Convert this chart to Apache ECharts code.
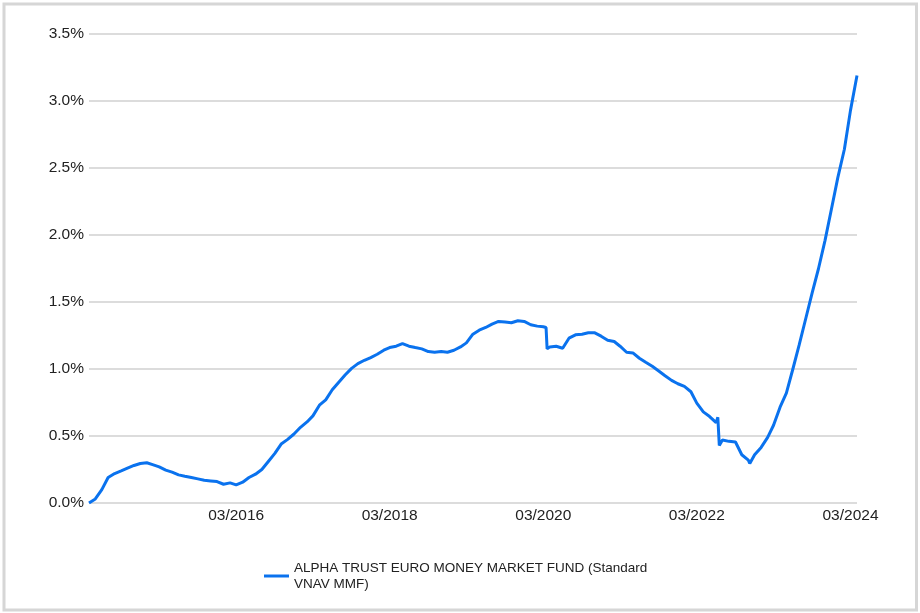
<!DOCTYPE html>
<html>
<head>
<meta charset="utf-8">
<script src="https://cdn.jsdelivr.net/npm/echarts@6/dist/echarts.min.js"></script>
<style>
html,body{margin:0;padding:0;background:#fff;}
#chart{width:920px;height:613px;}
</style>
</head>
<body>
<div id="chart"></div>
<script>
var seriesName = 'ALPHA TRUST EURO MONEY MARKET FUND (Standard VNAV MMF)';
var dates = [
'2014-04-01','2014-05-01','2014-06-01','2014-07-01','2014-08-01','2014-09-01','2014-10-01','2014-11-01','2014-12-01',
'2015-01-01','2015-02-01','2015-03-01','2015-04-01','2015-05-01','2015-06-01','2015-07-01','2015-08-01','2015-09-01','2015-10-01','2015-11-01','2015-12-01',
'2016-01-01','2016-02-01','2016-03-01','2016-04-01','2016-05-01','2016-06-01','2016-07-01','2016-08-01','2016-09-01','2016-10-01','2016-11-01','2016-12-01',
'2017-01-01','2017-02-01','2017-03-01','2017-04-01','2017-05-01','2017-06-01','2017-07-01','2017-08-01','2017-09-01','2017-10-01','2017-11-01','2017-12-01',
'2018-01-01','2018-02-01','2018-03-01','2018-04-01','2018-05-01','2018-06-01','2018-07-01','2018-08-01','2018-09-01','2018-10-01','2018-11-01','2018-12-01',
'2019-01-01','2019-02-01','2019-03-01','2019-04-01','2019-05-01','2019-06-01','2019-07-01','2019-08-01','2019-09-01','2019-10-01','2019-11-01','2019-12-01',
'2020-01-01','2020-02-01','2020-03-01','2020-03-14','2020-03-19','2020-04-01','2020-05-01','2020-06-01','2020-07-01','2020-08-01','2020-09-01','2020-10-01','2020-11-01','2020-12-01',
'2021-01-01','2021-02-01','2021-03-01','2021-04-01','2021-05-01','2021-06-01','2021-07-01','2021-08-01','2021-09-01','2021-10-01','2021-11-01','2021-12-01',
'2022-01-01','2022-02-01','2022-03-01','2022-04-01','2022-05-01','2022-06-01','2022-06-09','2022-06-16','2022-07-01','2022-08-01','2022-09-01','2022-10-01','2022-11-01','2022-11-08','2022-12-01',
'2023-01-01','2023-02-01','2023-03-01','2023-04-01','2023-05-01','2023-06-01','2023-07-01','2023-08-01','2023-09-01','2023-10-01','2023-11-01','2023-12-01',
'2024-01-01','2024-02-01','2024-03-01','2024-04-01'
];
var values = [
0.00,0.03,0.10,0.19,0.22,0.24,0.26,0.28,0.295,
0.30,0.285,0.27,0.245,0.23,0.21,0.20,0.19,0.18,0.17,0.165,0.16,
0.14,0.15,0.135,0.155,0.19,0.215,0.25,0.31,0.37,0.44,0.475,0.515,
0.565,0.605,0.65,0.73,0.77,0.845,0.90,0.955,1.005,1.04,1.065,1.085,
1.11,1.14,1.16,1.17,1.19,1.17,1.16,1.15,1.13,1.125,1.13,1.125,
1.14,1.165,1.195,1.26,1.29,1.31,1.335,1.355,1.35,1.345,1.36,1.355,
1.33,1.32,1.315,1.31,1.15,1.165,1.17,1.155,1.23,1.255,1.26,1.27,1.27,1.245,
1.215,1.205,1.17,1.125,1.12,1.08,1.05,1.02,0.985,0.95,0.915,0.89,
0.87,0.83,0.745,0.68,0.645,0.60,0.64,0.43,0.47,0.46,0.455,0.36,0.32,0.295,0.36,
0.415,0.49,0.58,0.715,0.82,1.00,1.18,1.375,1.57,1.75,1.96,2.19,
2.43,2.64,2.93,3.19
];
var xTickDates = ['2016-03-01','2018-03-01','2020-03-01','2022-03-01','2024-03-01'];

function ts(s){ var p = s.split('-'); return new Date(+p[0], +p[1]-1, +p[2]).getTime(); }

var chart = echarts.init(document.getElementById('chart'), null, {renderer:'canvas'});
var FONT = '"Liberation Sans", Arial, sans-serif';
chart.setOption({
  animation: false,
  textStyle: {fontFamily: FONT},
  graphic: [{
    type: 'rect', silent: true, z: 100,
    shape: {x: 4, y: 4, width: 912.5, height: 606},
    style: {fill: 'none', stroke: '#d6d6d6', lineWidth: 3}
  }],
  grid: {left: 89, right: 63, top: 34, bottom: 110, containLabel: false},
  legend: {
    left: 259, top: 555,
    icon: 'rect', itemWidth: 25, itemHeight: 3, itemGap: 10,
    textStyle: {fontSize: 13.5, color: '#222', fontFamily: FONT, lineHeight: 16},
    formatter: function(){ return 'ALPHA TRUST EURO MONEY MARKET FUND (Standard\nVNAV MMF)'; },
    data: [seriesName]
  },
  xAxis: {
    type: 'value',
    min: ts(dates[0]), max: ts(dates[dates.length-1]),
    axisLine: {show: false}, axisTick: {show: false}, splitLine: {show: false},
    axisLabel: {
      customValues: xTickDates.map(ts),
      margin: 5,
      color: '#222', fontSize: 15.5, fontFamily: FONT,
      formatter: function(v){ var d = new Date(v); var m = d.getMonth()+1; return (m<10?'0':'')+m+'/'+d.getFullYear(); }
    }
  },
  yAxis: {
    type: 'value', min: 0, max: 3.5, interval: 0.5,
    axisLine: {show: false}, axisTick: {show: false},
    splitLine: {lineStyle: {color: '#dcdcdc', width: 2}},
    axisLabel: {margin: 5, color: '#222', fontSize: 15.5, fontFamily: FONT,
      formatter: function(v){ return v.toFixed(1) + '%'; }}
  },
  series: [{
    name: seriesName,
    type: 'line',
    showSymbol: false, symbol: 'none',
    lineStyle: {color: '#0a72ee', width: 3},
    itemStyle: {color: '#0a72ee'},
    data: dates.map(function(d, i){ return [ts(d), values[i]]; })
  }]
});
</script>
</body>
</html>
